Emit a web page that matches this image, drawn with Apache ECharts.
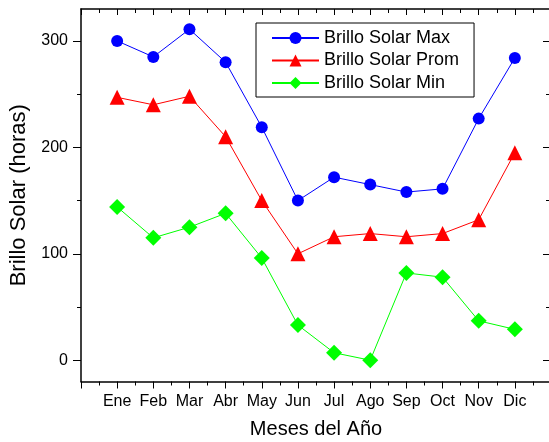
<!DOCTYPE html>
<html><head><meta charset="utf-8">
<script src="https://cdn.jsdelivr.net/npm/echarts@6/dist/echarts.min.js"></script>
<style>html,body{margin:0;padding:0;background:#fff}#c{width:549px;height:442px}</style>
</head><body><div id="c"></div>
<script>
const months = ['Ene','Feb','Mar','Abr','May','Jun','Jul','Ago','Sep','Oct','Nov','Dic'];
const brilloMax  = [300, 285, 311, 280, 219, 150, 172, 165, 158, 161, 227, 284];
const brilloProm = [247, 240, 248, 210, 150, 100, 116, 119, 116, 119, 132, 195];
const brilloMin  = [144, 115, 125, 138,  96,  33,   7,   0,  82,  78,  37,  29];
const yMajor = [0, 100, 200, 300];
const yMinor = [50, 150, 250];

const pairs = arr => arr.map((v, i) => [i + 1, v]);
const FONT = 'Liberation Sans, Arial, sans-serif';
const chart = echarts.init(document.getElementById('c'));
const lineStyleAx = {color: '#000', width: 1.5};
const xCommon = {type: 'value', min: 0, max: 13, interval: 1};
const yCommon = {type: 'value', min: -20, max: 330, splitLine: {show: false}};

function mkSeries(name, data, color, symbol, size) {
  return {
    name, type: 'line', data: pairs(data), symbol, symbolSize: size,
    lineStyle: {color, width: 1}, itemStyle: {color},
    xAxisIndex: 0, yAxisIndex: 0, z: 5
  };
}

chart.setOption({
  animation: false,
  backgroundColor: '#fff',
  textStyle: {fontFamily: FONT},
  grid: {left: 81, top: 9, right: -2, bottom: 60.5, containLabel: false, outerBoundsMode: 'none'},
  legend: {
    left: 256, top: 23, orient: 'vertical',
    itemWidth: 47, itemHeight: 15, itemGap: 4.5,
    padding: [6, 15, 5, 15],
    borderColor: '#000', borderWidth: 1, backgroundColor: '#fff',
    textStyle: {fontSize: 18, color: '#000', fontFamily: FONT},
    data: ['Brillo Solar Max', 'Brillo Solar Prom', 'Brillo Solar Min']
  },
  xAxis: [
    Object.assign({}, xCommon, {
      position: 'bottom',
      name: 'Meses del Año', nameLocation: 'middle', nameGap: 38,
      nameTextStyle: {fontSize: 20, color: '#000', fontFamily: FONT},
      axisLine: {show: true, onZero: false, lineStyle: lineStyleAx},
      axisTick: {show: true, inside: false, length: 7, lineStyle: {color: '#000', width: 1}},
      minorTick: {show: true, splitNumber: 2, length: 4, lineStyle: {color: '#000', width: 1}},
      axisLabel: {fontSize: 16, color: '#000', margin: 12, fontFamily: FONT,
        formatter: v => (v >= 1 && v <= 12 ? months[v - 1] : '')},
      splitLine: {show: false}
    }),
    Object.assign({}, xCommon, {
      position: 'top',
      axisLine: {show: true, onZero: false, lineStyle: lineStyleAx},
      axisTick: {show: true, inside: true, length: 6, lineStyle: {color: '#000', width: 1}},
      minorTick: {show: true, splitNumber: 2, length: 4, lineStyle: {color: '#000', width: 1}},
      axisLabel: {show: false}, splitLine: {show: false}
    })
  ],
  yAxis: [
    Object.assign({}, yCommon, {
      position: 'left',
      name: 'Brillo Solar (horas)', nameLocation: 'middle', nameGap: 46,
      nameTextStyle: {fontSize: 22, color: '#000', fontFamily: FONT},
      axisLine: {show: true, onZero: false, lineStyle: lineStyleAx},
      axisTick: {show: true, inside: false, length: 8, customValues: yMajor, lineStyle: {color: '#000', width: 1}},
      axisLabel: {fontSize: 16, color: '#000', margin: 13, customValues: yMajor, fontFamily: FONT}
    }),
    Object.assign({}, yCommon, {
      position: 'left',
      axisLine: {show: false, onZero: false},
      axisTick: {show: true, inside: false, length: 4, customValues: yMinor, lineStyle: {color: '#000', width: 1}},
      axisLabel: {show: false, customValues: yMinor}
    }),
    Object.assign({}, yCommon, {
      position: 'right',
      axisLine: {show: false, onZero: false},
      axisTick: {show: true, inside: true, length: 8, customValues: yMajor, lineStyle: {color: '#000', width: 1}},
      axisLabel: {show: false, customValues: yMajor}
    }),
    Object.assign({}, yCommon, {
      position: 'right',
      axisLine: {show: false, onZero: false},
      axisTick: {show: true, inside: true, length: 5, customValues: yMinor, lineStyle: {color: '#000', width: 1}},
      axisLabel: {show: false, customValues: yMinor}
    })
  ],
  series: [
    mkSeries('Brillo Solar Max', brilloMax, '#0000ff', 'circle', 12),
    mkSeries('Brillo Solar Prom', brilloProm, '#ff0000', 'triangle', 15),
    mkSeries('Brillo Solar Min', brilloMin, '#00ff00', 'diamond', 16)
  ]
});
</script></body></html>
